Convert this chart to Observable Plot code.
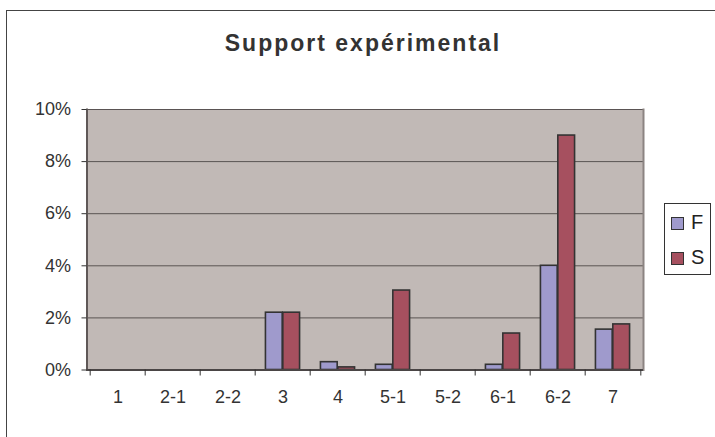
<!DOCTYPE html>
<html>
<head>
<meta charset="utf-8">
<script src="https://cdn.jsdelivr.net/npm/d3@7"></script>
<script src="https://cdn.jsdelivr.net/npm/@observablehq/plot@0.6"></script>
<style>
  body { margin: 0; background: #fff; font-family: "Liberation Sans", Arial, sans-serif; }
  #wrap { position: relative; width: 715px; height: 437px; overflow: hidden; }
  #border { position: absolute; left: 6px; top: 10px; width: 730px; height: 450px; border: 1.5px solid #444; box-sizing: border-box; }
  #title { position: absolute; left: 6px; width: 714px; top: 32px; text-align: center; font-size: 23px; line-height: 23px; font-weight: bold; letter-spacing: 2px; color: #333; }
  #chart { position: absolute; left: 0; top: 0; }
  #legend { position: absolute; left: 664px; top: 203px; width: 47px; height: 72px; border: 1px solid #333; box-sizing: border-box; background: #fff; }
  .item { position: absolute; left: 6px; font-size: 20px; line-height: 20px; color: #222; }
  .sw { position: absolute; left: 0; width: 13px; height: 13px; border: 1.5px solid #333; box-sizing: border-box; }
  .lab { position: absolute; left: 20px; }
</style>
</head>
<body>
<div id="wrap">
  <div id="border"></div>
  <div id="chart"></div>
  <div id="title">Support expérimental</div>
  <div id="legend"></div>
</div>
<script>
const categories = ["1", "2-1", "2-2", "3", "4", "5-1", "5-2", "6-1", "6-2", "7"];
const seriesNames = ["F", "S"];
const valuesF = [0, 0, 0, 0.022, 0.003, 0.002, 0, 0.002, 0.040, 0.0155];
const valuesS = [0, 0, 0, 0.022, 0.001, 0.0305, 0, 0.014, 0.090, 0.0175];
const yTicks = [0, 0.02, 0.04, 0.06, 0.08, 0.10];
const colors = ["#9f9acc", "#a6505f"];

const W = 715, H = 437;
const ml = 86.5, mr = 72, mt = 109, mb = 67.5;
const bw = (W - ml - mr) / categories.length;
const barW = bw / 3.2;

const rows = categories.map((c, i) => ({cat: c, F: valuesF[i], S: valuesS[i]}));

const chart = Plot.plot({
  width: W,
  height: H,
  marginLeft: ml,
  marginRight: mr,
  marginTop: mt,
  marginBottom: mb,
  style: {fontFamily: "'Liberation Sans', Arial, sans-serif", fontSize: "18px", color: "#333", background: "transparent"},
  x: {type: "band", domain: categories, padding: 0, label: null},
  y: {domain: [0, 0.10], label: null},
  marks: [
    Plot.frame({fill: "#c1b9b6", stroke: null}),
    Plot.ruleY(yTicks.filter(t => t > 0), {stroke: "#5a5453", strokeWidth: 1}),
    Plot.barY(rows.filter(d => d.F > 0), {x: "cat", y: "F", fill: colors[0], stroke: "#333", strokeWidth: 1.6, insetLeft: 0.6 * barW, insetRight: 1.6 * barW}),
    Plot.barY(rows.filter(d => d.S > 0), {x: "cat", y: "S", fill: colors[1], stroke: "#333", strokeWidth: 1.6, insetLeft: 1.6 * barW, insetRight: 0.6 * barW}),
    Plot.frame({anchor: "right", stroke: "#8c8482", strokeWidth: 2}),
    Plot.frame({anchor: "left", stroke: "#5f5857", strokeWidth: 2}),
    Plot.ruleY([0], {stroke: "#4a4545", strokeWidth: 2}),
    Plot.axisY({ticks: yTicks, tickFormat: d3.format(".0%"), tickSize: 5, tickPadding: 11, fontSize: 18, label: null}),
    Plot.axisX({tickSize: 6, tickFormat: () => "", dx: -bw / 2, label: null}),
    Plot.axisX({ticks: [categories[categories.length - 1]], tickSize: 6, tickFormat: () => "", dx: bw / 2, label: null}),
    Plot.axisX({tickSize: 0, tickPadding: 20, fontSize: 18, label: null})
  ]
});
document.getElementById("chart").appendChild(chart);

const legend = document.getElementById("legend");
seriesNames.forEach((name, i) => {
  const item = document.createElement("div");
  item.className = "item";
  item.style.top = (i === 0 ? 8 : 43) + "px";
  const sw = document.createElement("div");
  sw.className = "sw";
  sw.style.background = colors[i];
  sw.style.top = "5px";
  const lab = document.createElement("span");
  lab.className = "lab";
  lab.textContent = name;
  item.appendChild(sw);
  item.appendChild(lab);
  legend.appendChild(item);
});
</script>
</body>
</html>
